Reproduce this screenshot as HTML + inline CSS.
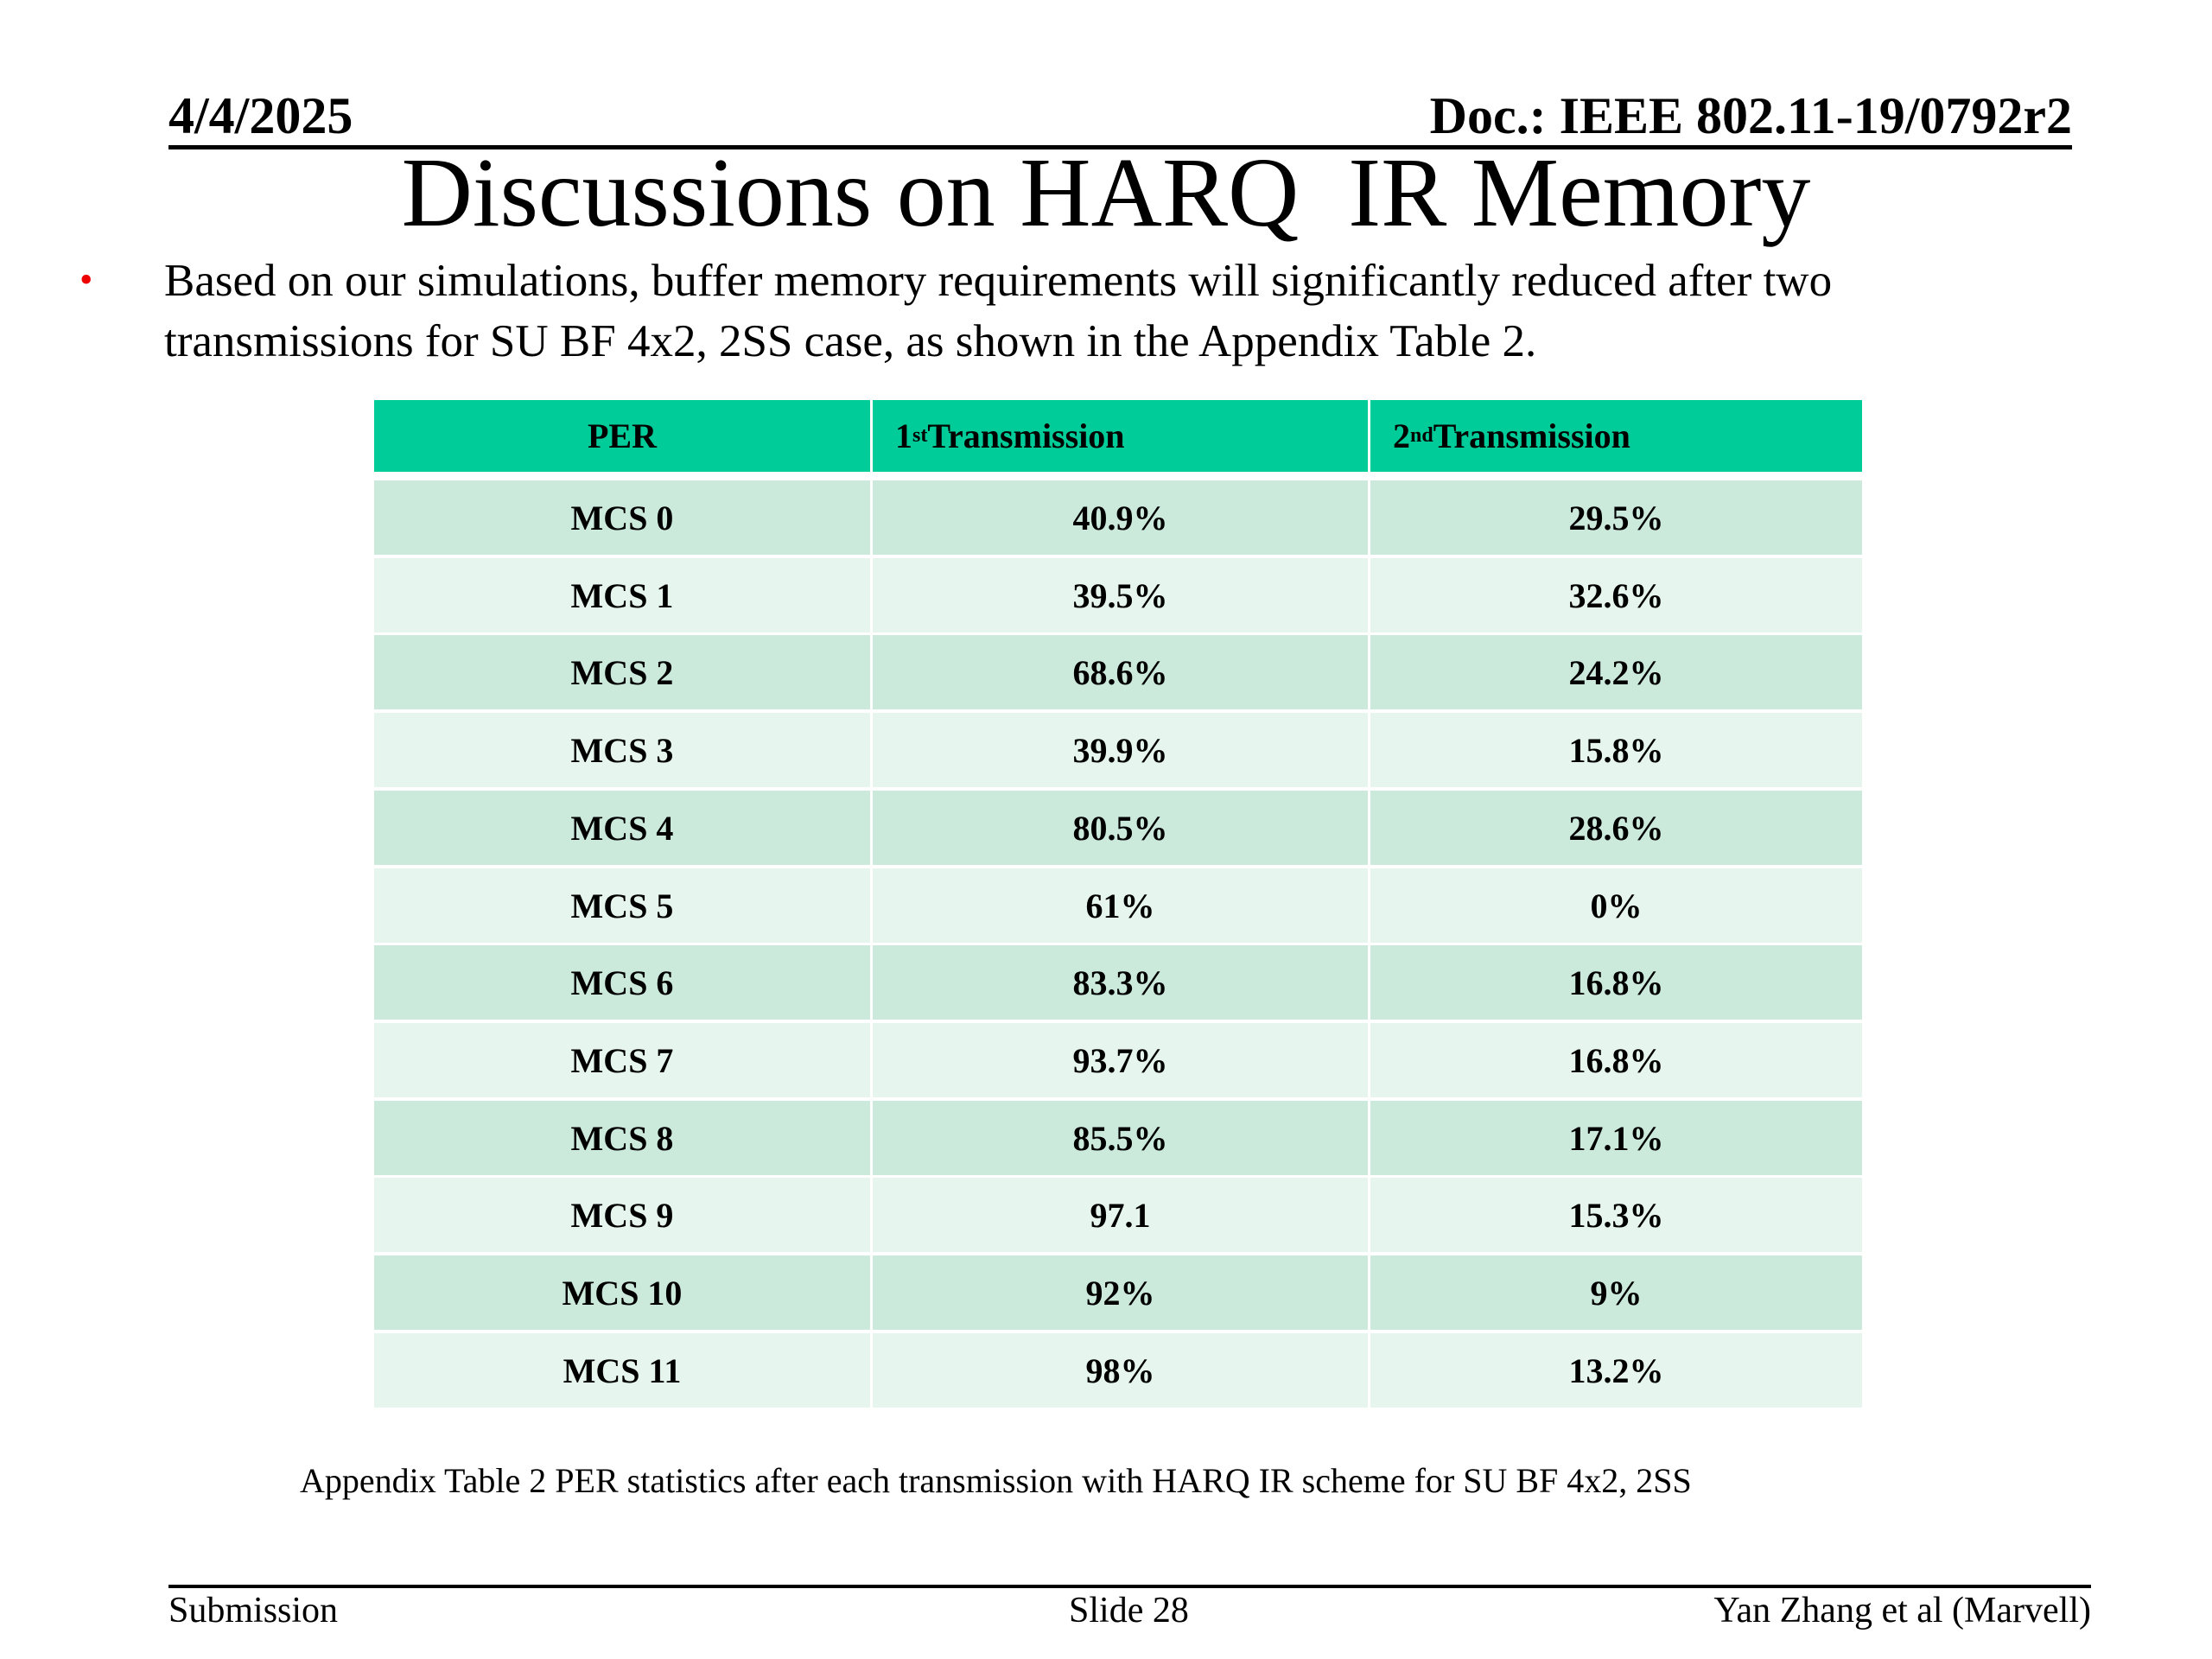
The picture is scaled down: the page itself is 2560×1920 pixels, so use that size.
<!DOCTYPE html>
<html><head><meta charset="utf-8"><style>
body{margin:0;width:2560px;height:1920px;background:#fff;position:relative;overflow:hidden;font-family:"Liberation Serif",serif;color:#000}
.a{position:absolute;white-space:nowrap}
.hdr{font-weight:bold;font-size:60px;top:100px}
.cell{position:absolute;display:flex;align-items:center;justify-content:center;font-weight:bold;font-size:40px}
</style></head><body>
<div class="a hdr" style="left:195px">4/4/2025</div>
<div class="a hdr" style="right:162px">Doc.: IEEE 802.11-19/0792r2</div>
<div class="a" style="left:195px;top:168px;width:2203px;height:5px;background:#000"></div>
<div class="a" style="left:0;width:2560px;text-align:center;top:158px;font-size:114px;line-height:130px">Discussions on HARQ&nbsp; IR Memory</div>
<div class="a" style="left:92px;top:298px;color:#e00;font-size:44px">•</div>
<div class="a" style="left:190px;top:290px;font-size:53px;line-height:70px">Based on our simulations, buffer memory requirements will significantly reduced after two<br>transmissions for SU BF 4x2, 2SS case, as shown in the Appendix Table 2.</div>
<div id="tbl"></div>
<div class="a" style="left:347px;top:1690px;font-size:40px">Appendix Table 2 PER statistics after each transmission with HARQ IR scheme for SU BF 4x2, 2SS</div>
<div class="a" style="left:195px;top:1834px;width:2225px;height:4px;background:#000"></div>
<div class="a" style="left:195px;top:1840px;font-size:42px">Submission</div>
<div class="a" style="left:1237px;top:1840px;font-size:42px">Slide 28</div>
<div class="a" style="right:140px;top:1840px;font-size:42px">Yan Zhang et al (Marvell)</div>
<script>
const rowLabels=["MCS 0","MCS 1","MCS 2","MCS 3","MCS 4","MCS 5","MCS 6","MCS 7","MCS 8","MCS 9","MCS 10","MCS 11"];
const firstTx=["40.9%","39.5%","68.6%","39.9%","80.5%","61%","83.3%","93.7%","85.5%","97.1","92%","98%"];
const secondTx=["29.5%","32.6%","24.2%","15.8%","28.6%","0%","16.8%","16.8%","17.1%","15.3%","9%","13.2%"];
const t=document.getElementById('tbl');
const colX=[433,1010,1586,2158];
function cell(x,y,w,h,bg,html,name,align){
  const d=document.createElement('div');
  d.className='cell';
  d.style.cssText=`left:${x}px;top:${y}px;width:${w}px;height:${h}px;background:${bg};`+(align?`justify-content:flex-start;padding-left:${align}px;box-sizing:border-box;`:'');
  d.innerHTML=html;
  
  
  t.appendChild(d);
}
const hdrs=["PER","1<sup style='font-size:24px'>st</sup> Transmission","2<sup style='font-size:24px'>nd</sup> Transmission"];
for(let c=0;c<3;c++){
  cell(colX[c],463,colX[c+1]-colX[c]-3,83,'#00cc99',hdrs[c],'header-cell',c?26:0);
}
const rowH=89.7,top0=556;
for(let r=0;r<rowLabels.length;r++){
  const y=Math.round(top0+r*rowH),h=Math.round(rowH)-4;
  const bg=r%2?'#e6f5ee':'#cbeadc';
  const vals=[rowLabels[r],firstTx[r],secondTx[r]];
  for(let c=0;c<3;c++) cell(colX[c],y,colX[c+1]-colX[c]-3,h,bg,vals[c],'table-cell',0);
}
</script>
</body></html>
